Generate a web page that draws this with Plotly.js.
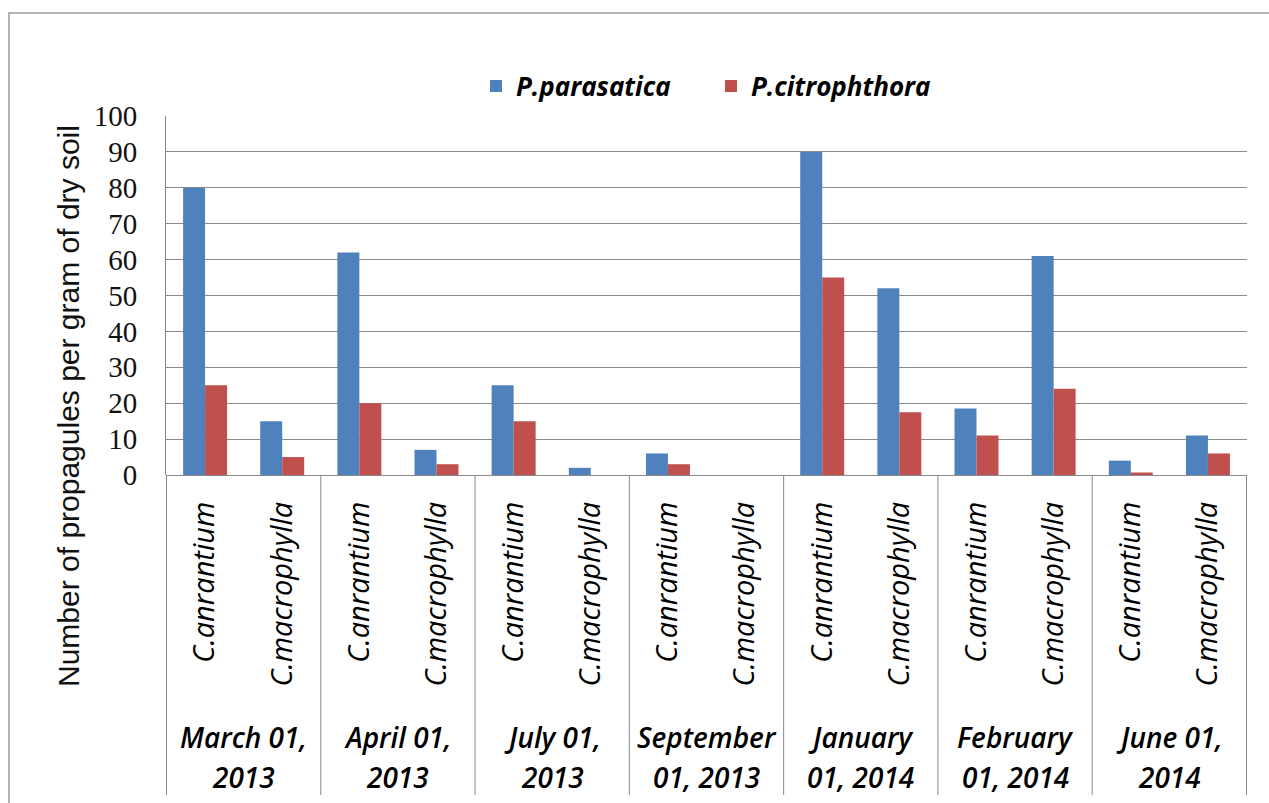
<!DOCTYPE html>
<html><head><meta charset="utf-8">
<script src="https://cdn.plot.ly/plotly-3.0.1.min.js"></script>
<style>html,body{margin:0;padding:0;background:#fff}</style>
</head><body><div id="chart" style="width:1269px;height:803px"></div>
<script>
const dates = ["March 01,<br>2013", "April 01,<br>2013", "July 01,<br>2013", "September<br>01, 2013", "January<br>01, 2014", "February<br>01, 2014", "June 01,<br>2014"];
const rootstocks = ["C.anrantium", "C.macrophylla"];
const seriesNames = ["P.parasatica", "P.citrophthora"];
const parasatica = [80, 15, 62, 7, 25, 2, 6, 0, 90, 52, 18.5, 61, 4, 11];
const citrophthora = [25, 5, 20, 3, 15, 0, 3, 0, 55, 17.5, 11, 24, 0.7, 6];
const yTicks = [0, 10, 20, 30, 40, 50, 60, 70, 80, 90, 100];
const yTitle = "Number of propagules per gram of dry soil";

const keys = [], tickText = [];
dates.forEach((d, i) => rootstocks.forEach(r => { keys.push(i + "|" + r); tickText.push(r); }));

const colors = ["#4F81BD", "#C0504D"];
const gridC = "#8a8a8a";
const italic = {family: "Open Sans", style: "italic", color: "#000"};

const traces = [parasatica, citrophthora].map((vals, k) => ({
  type: "bar", x: keys, y: vals, name: seriesNames[k],
  marker: {color: colors[k], line: {width: 0}}, hoverinfo: "none"
}));

// pixel helpers for paper coords (plot area: x 166..1247, y 116..475)
const L = 166, R = 1247, T = 116, B = 475;
const px = x => (x - L) / (R - L);
const py = y => (B - y) / (B - T);

const shapes = [];
for (let g = 0; g <= dates.length; g++) {
  shapes.push({type: "line", xref: "x", yref: "paper", x0: 2 * g - 0.5, x1: 2 * g - 0.5,
    y0: 0, y1: py(795), line: {color: gridC, width: 1}});
}
shapes.push({type: "rect", xref: "paper", yref: "paper", x0: px(9), x1: px(1290), y0: py(830), y1: py(13),
  line: {color: "#9a9a9a", width: 1.5}});

const annotations = [];
dates.forEach((d, i) => {
  d.split("<br>").forEach((line, j) => {
    annotations.push({xref: "x", yref: "paper", x: 2 * i + 0.5, y: py(737 + 40 * j),
      text: line, showarrow: false, xanchor: "center", yanchor: "middle",
      font: Object.assign({size: 28, weight: 600}, italic)});
  });
});
annotations.push({xref: "paper", yref: "paper", x: px(68), y: py(406), text: yTitle, textangle: -90,
  showarrow: false, xanchor: "center", yanchor: "middle",
  font: {family: "Liberation Sans", size: 30, color: "#111"}});

const layout = {
  width: 1269, height: 803,
  margin: {l: L, r: 1269 - R, t: T, b: 803 - B, pad: 0},
  paper_bgcolor: "#fff", plot_bgcolor: "#fff",
  bargap: 0.43, bargroupgap: 0, barmode: "group",
  xaxis: {type: "category", tickvals: keys, ticktext: tickText, tickangle: -90,
    tickfont: Object.assign({size: 29, weight: 500}, italic), showgrid: false, showline: false,
    zeroline: false, ticks: "", ticklabelstandoff: 20, fixedrange: true},
  yaxis: {range: [0, 100], tickvals: yTicks, showgrid: true, gridcolor: gridC, gridwidth: 1,
    showline: true, linecolor: gridC, linewidth: 1, zeroline: true, zerolinecolor: gridC,
    ticks: "", ticklabelstandoff: 22,
    tickfont: {family: "Liberation Serif", size: 29, color: "#111"}},
  showlegend: true,
  legend: {orientation: "h", x: px(476), y: py(86), xanchor: "left", yanchor: "middle",
    entrywidth: 190, entrywidthmode: "pixels",
    font: Object.assign({size: 26, weight: 700}, italic), bgcolor: "rgba(0,0,0,0)", traceorder: "normal"},
  shapes: shapes, annotations: annotations
};

Plotly.newPlot("chart", traces, layout, {displayModeBar: false, staticPlot: true});
</script></body></html>
